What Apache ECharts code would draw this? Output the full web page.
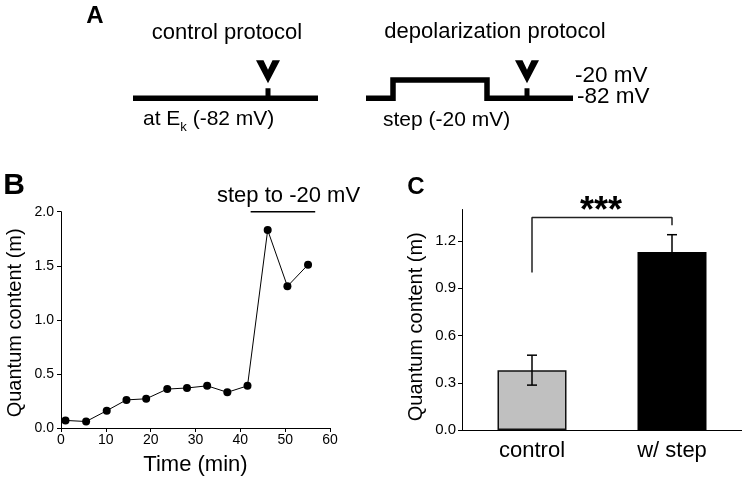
<!DOCTYPE html>
<html><head><meta charset="utf-8">
<script src="https://cdn.jsdelivr.net/npm/echarts@6/dist/echarts.min.js"></script>
<style>html,body{margin:0;padding:0;background:#fff}#c{width:742px;height:480px}</style>
</head><body><div id="c"></div>
<script>
// ---- Panel A: protocol schematics (time in ms, membrane potential in mV)
const controlTraceT = [0, 185];
const controlTraceV = [-82, -82];
const depolTraceT = [233, 260, 260, 354, 354, 440];
const depolTraceV = [-82, -82, -20, -20, -82, -82];
const stimTimes = [135, 394];
const holdingMV = -82;

// ---- Panel B: quantum content over time
const timeMin = [1.0, 5.6, 10.2, 14.6, 19.0, 23.7, 28.1, 32.6, 37.1, 41.6, 46.1, 50.5, 55.1];
const quantumB = [0.07, 0.06, 0.16, 0.26, 0.27, 0.36, 0.37, 0.39, 0.33, 0.39, 1.83, 1.31, 1.51];
const stepPeriod = [42.3, 56.7];
const stepBarLevel = 2.0;

// ---- Panel C: summary bars
const categoriesC = ['control', 'w/ step'];
const meanC = [0.38, 1.13];
const semC = [0.095, 0.11];
const bracketLevels = [1.0, 1.35, 1.35, 1.30];
const bracketCats = [0, 0, 1, 1];
const ticksC = [0, 0.3, 0.6, 0.9, 1.2];

const FF = '"Liberation Sans", Arial, Helvetica, sans-serif';
const zip = (a, b) => a.map((v, i) => [v, b[i]]);
const barStyles = [
  { color: '#c0c0c0', borderColor: '#111', borderWidth: 1.5 },
  { color: '#000', borderColor: '#000', borderWidth: 1.5 }
];
const stimPath = 'path://M0,0 L7.5,0 L12,9.5 L16.5,0 L24,0 L12,23 Z M9.5,28 L14.5,28 L14.5,38 L9.5,38 Z';

const chart = echarts.init(document.getElementById('c'), null, { renderer: 'canvas' });
const axisBlack = { lineStyle: { color: '#000', width: 1 } };

chart.setOption({
  animation: false,
  backgroundColor: '#fff',
  textStyle: { fontFamily: FF, color: '#000' },
  grid: [
    { left: 133, top: 80, width: 440, height: 18.3 },
    { left: 61, top: 211.7, width: 269, height: 216.3 },
    { left: 462, top: 209.5, width: 280, height: 220.5 }
  ],
  xAxis: [
    { gridIndex: 0, type: 'value', min: 0, max: 440, show: false },
    { gridIndex: 1, type: 'value', min: 0, max: 60, interval: 10,
      axisLine: axisBlack, axisTick: { show: true, length: 4, lineStyle: { color: '#000' } },
      axisLabel: { color: '#000', fontSize: 14, margin: 5, fontFamily: FF },
      splitLine: { show: false },
      name: 'Time (min)', nameLocation: 'middle', nameGap: 26,
      nameTextStyle: { fontSize: 22, color: '#000', fontFamily: FF } },
    { gridIndex: 2, type: 'category', data: categoriesC,
      axisLine: axisBlack, axisTick: { show: false },
      axisLabel: { color: '#000', fontSize: 22, margin: 10, fontFamily: FF } }
  ],
  yAxis: [
    { gridIndex: 0, type: 'value', min: -82, max: -20, show: false },
    { gridIndex: 1, type: 'value', min: 0, max: 2, interval: 0.5,
      axisLine: { show: true, lineStyle: { color: '#000', width: 1 } },
      axisTick: { show: true, length: 4, lineStyle: { color: '#000' } },
      axisLabel: { color: '#000', fontSize: 14, margin: 7, fontFamily: FF, formatter: v => v.toFixed(1) },
      splitLine: { show: false },
      name: 'Quantum content (m)', nameLocation: 'middle', nameGap: 36,
      nameTextStyle: { fontSize: 20, color: '#000', fontFamily: FF, padding: [0, 6, 0, 0] } },
    { gridIndex: 2, type: 'value', min: 0, max: 1.4,
      axisLine: { show: true, lineStyle: { color: '#000', width: 1 } },
      axisTick: { show: true, length: 4, lineStyle: { color: '#000' }, customValues: ticksC },
      axisLabel: { color: '#000', fontSize: 15, margin: 6, fontFamily: FF, customValues: ticksC, formatter: v => v.toFixed(1) },
      splitLine: { show: false },
      name: 'Quantum content (m)', nameLocation: 'middle', nameGap: 36,
      nameTextStyle: { fontSize: 20, color: '#000', fontFamily: FF, padding: [0, 14, 0, 0] } }
  ],
  series: [
    { type: 'line', xAxisIndex: 0, yAxisIndex: 0, data: zip(controlTraceT, controlTraceV),
      symbol: 'none', clip: false, lineStyle: { color: '#000', width: 5.5, join: 'miter', cap: 'butt' } },
    { type: 'line', xAxisIndex: 0, yAxisIndex: 0, data: zip(depolTraceT, depolTraceV),
      symbol: 'none', clip: false, lineStyle: { color: '#000', width: 5.5, join: 'miter', cap: 'butt' } },
    { type: 'scatter', xAxisIndex: 0, yAxisIndex: 0, data: stimTimes.map(t => [t, holdingMV]),
      symbol: stimPath, symbolSize: [24, 38], symbolOffset: [0, -19], clip: false,
      itemStyle: { color: '#000', opacity: 1 } },
    { type: 'line', xAxisIndex: 1, yAxisIndex: 1, data: zip(timeMin, quantumB),
      symbol: 'circle', symbolSize: 8, showAllSymbol: true,
      lineStyle: { color: '#000', width: 1 }, itemStyle: { color: '#000' } },
    { type: 'line', xAxisIndex: 1, yAxisIndex: 1, data: stepPeriod.map(t => [t, stepBarLevel]),
      symbol: 'none', clip: false, lineStyle: { color: '#000', width: 1.5 } },
    { type: 'bar', xAxisIndex: 2, yAxisIndex: 2, barWidth: 69,
      data: meanC.map((v, i) => ({ value: v, itemStyle: barStyles[i] })) },
    { type: 'custom', xAxisIndex: 2, yAxisIndex: 2, z: 5,
      data: meanC.map((m, i) => [i, m, semC[i]]),
      encode: { x: 0, y: 1 },
      renderItem: (params, api) => {
        const i = api.value(0), m = api.value(1), s = api.value(2);
        const top = api.coord([i, m + s]), bot = api.coord([i, m - s]);
        const hw = 5, st = { stroke: '#000', lineWidth: 1.5 };
        return { type: 'group', children: [
          { type: 'line', shape: { x1: top[0], y1: top[1], x2: bot[0], y2: bot[1] }, style: st },
          { type: 'line', shape: { x1: top[0] - hw, y1: top[1], x2: top[0] + hw, y2: top[1] }, style: st },
          { type: 'line', shape: { x1: bot[0] - hw, y1: bot[1], x2: bot[0] + hw, y2: bot[1] }, style: st }
        ] };
      } },
    { type: 'line', xAxisIndex: 2, yAxisIndex: 2, data: zip(bracketCats, bracketLevels),
      symbol: 'none', clip: false, lineStyle: { color: '#222', width: 1.5 } }
  ],
  graphic: [
    { type: 'text', x: 95, y: 16, style: { text: 'A', fontSize: 24, fontWeight: 'bold', fontFamily: FF, fill: '#000', align: 'center', verticalAlign: 'middle' } },
    { type: 'text', x: 227, y: 33, style: { text: 'control protocol', fontSize: 22, fontFamily: FF, fill: '#000', align: 'center', verticalAlign: 'middle' } },
    { type: 'text', x: 495, y: 32, style: { text: 'depolarization protocol', fontSize: 22, fontFamily: FF, fill: '#000', align: 'center', verticalAlign: 'middle' } },
    { type: 'text', x: 143, y: 119, style: { text: 'at E{k|k} (-82 mV)', fontSize: 21, fontFamily: FF, fill: '#000', align: 'left', verticalAlign: 'middle', lineHeight: 30,
        rich: { k: { fontSize: 13, fontFamily: FF, verticalAlign: 'bottom', lineHeight: 30 } } } },
    { type: 'text', x: 383, y: 120.5, style: { text: 'step (-20 mV)', fontSize: 21, fontFamily: FF, fill: '#000', align: 'left', verticalAlign: 'middle' } },
    { type: 'text', x: 575, y: 75.5, style: { text: '-20 mV', fontSize: 22.5, fontFamily: FF, fill: '#000', align: 'left', verticalAlign: 'middle' } },
    { type: 'text', x: 577, y: 96.5, style: { text: '-82 mV', fontSize: 22.5, fontFamily: FF, fill: '#000', align: 'left', verticalAlign: 'middle' } },
    { type: 'text', x: 14, y: 186, style: { text: 'B', fontSize: 30, fontWeight: 'bold', fontFamily: FF, fill: '#000', align: 'center', verticalAlign: 'middle' } },
    { type: 'text', x: 217, y: 195.5, style: { text: 'step to -20 mV', fontSize: 22, fontFamily: FF, fill: '#000', align: 'left', verticalAlign: 'middle' } },
    { type: 'text', x: 416, y: 187, style: { text: 'C', fontSize: 24, fontWeight: 'bold', fontFamily: FF, fill: '#000', align: 'center', verticalAlign: 'middle' } },
    { type: 'text', x: 601, y: 212.5, style: { text: '***', fontSize: 36, fontWeight: 'bold', fontFamily: FF, fill: '#000', align: 'center', verticalAlign: 'middle' } }
  ]
});
</script>
</body></html>
